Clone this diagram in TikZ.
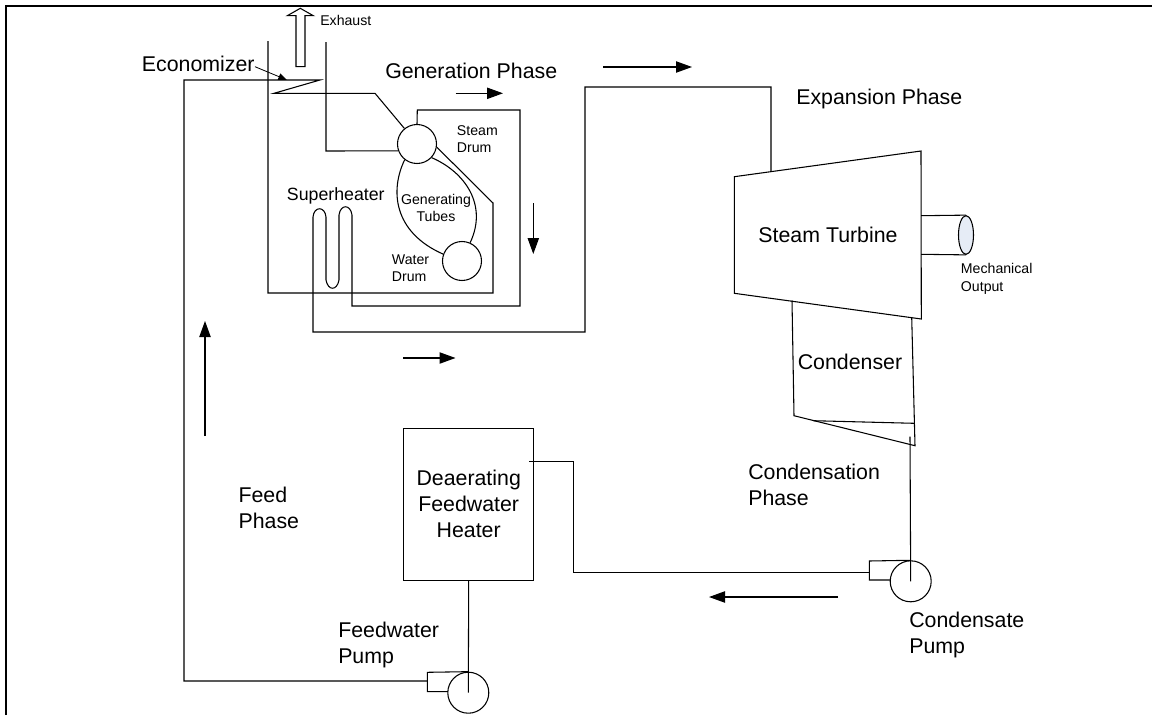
\documentclass[tikz,border=0pt]{standalone}
\usepackage{fontspec}
\setmainfont{Liberation Sans}
\usetikzlibrary{arrows.meta,shapes.geometric}
\definecolor{shaftblue}{HTML}{E6ECF6}
\tikzset{
  pipe/.style={draw=black,line width=0.8pt,line join=miter},
  frameline/.style={draw=black,line width=1.5pt},
  flow/.style={draw=black,line width=0.8pt,-{Triangle[length=12pt,width=8.5pt]}},
  callout/.style={draw=black,line width=0.6pt,-{Triangle[length=6.5pt,width=5pt]}},
  drum/.style={circle,draw=black,line width=0.8pt,minimum size=29.25pt,inner sep=0pt},
  pumpbody/.style={circle,draw=black,line width=0.8pt,minimum size=30.75pt,inner sep=0pt},
  big/.style={inner sep=0pt,font=\fontsize{16}{19.5}\selectfont},
  mid/.style={inner sep=0pt,font=\fontsize{13.3}{16}\selectfont},
  small/.style={inner sep=0pt,font=\fontsize{10.6}{13}\selectfont},
}
\begin{document}
\begin{tikzpicture}[x=0.75pt,y=-0.75pt]
\useasboundingbox (0,0) rectangle (1161,715);
% frame
\coordinate (fa) at (6,715); \coordinate (fb) at (6,6); \coordinate (fc) at (1152,6);
\draw[frameline] (fa) -- (fb) -- (fc);

% drums and pumps
\node[drum] (sd) at (417,144) {};
\node[drum] (wd) at (462,261) {};
\node[pumpbody] (cp) at (910.7,581.3) {};
\node[pumpbody] (fp) at (468.3,692.7) {};

% deaerator
\node[draw=black,line width=0.8pt,minimum width=97.5pt,minimum height=114pt,inner sep=0pt,align=center,font=\fontsize{16}{19.5}\selectfont] (dh) at (468.7,504.2) {Deaerating\\Feedwater\\Heater};

% feed line + economizer
\coordinate (ecotip) at (320,80);
\coordinate (ecoback) at (274,93.3);
\coordinate (ecobend) at (375,93.3);
\coordinate (fphouse) at (427.3,681);
\draw[pipe] (fphouse) -- (184,681) -- (184,80) -- (ecotip) -- (ecoback) -- (ecobend) -- (sd.129);

% gas path walls
\draw[pipe] (268,41) -- (268,293) -- (493,293) -- (493,203) -- (sd.-9);
\draw[pipe] (326,42) -- (326,151) -- (sd.200);

% generating tubes
\draw[pipe] (sd.232) .. controls (390,190) and (393,232) .. (wd.160);
\draw[pipe] (sd.-43) .. controls (465,172) and (488,205) .. (wd.66);

% turbine
\coordinate (t1) at (734.3,176.7); \coordinate (t2) at (921,151);
\coordinate (t3) at (921.3,319); \coordinate (t4) at (734.3,293.3);
\draw[pipe] (t1) -- (t2) -- (t3) -- (t4) -- cycle;
\coordinate (tin) at (771,171.6);

% steam line through superheater to turbine
\draw[pipe] (sd.north) -- (417.3,110) -- (520,110) -- (520,306) -- (352,306) -- (352,215)
  .. controls (350.5,204) and (340.5,204) .. (339,215) -- (339,280)
  .. controls (337,291) and (328,291) .. (326,280) -- (326,217)
  .. controls (325,206) and (314,206) .. (313,217) -- (313,332) -- (585,332) -- (585,87) -- (771,87) -- (tin);

% output shaft
\node[ellipse,draw=black,fill=shaftblue,line width=0.8pt,minimum width=11.25pt,minimum height=29pt,inner sep=0pt] (shaft) at (966,235) {};
\coordinate (s1) at (921,215.7); \coordinate (s2) at (921,254.3);
\draw[pipe] (s1) -- (shaft.north);
\draw[pipe] (s2) -- (shaft.south);

% condenser
\coordinate (c1) at (792,300.5); \coordinate (c2) at (794,415.7);
\coordinate (c3) at (915,445.7); \coordinate (c4) at (911.7,317);
\coordinate (c5) at (813.3,420.7); \coordinate (c6) at (914.3,423.3);
\draw[pipe] (c1) -- (c2) -- (c3) -- (c4);
\draw[pipe] (c5) -- (c6);

% condensate pump and line
\coordinate (cout) at (910,436.7);
\draw[pipe] (cout) -- (cp.center);
\draw[pipe] (cp.north) -- (869.3,561) -- (869.3,580) -- (890.3,580);
\draw[pipe] (869.3,572.7) -- (573.3,572.7) -- (573.3,461.3) -- (529.3,461.3);

% feedwater pump
\draw[pipe] (dh.south) -- (fp.center);
\draw[pipe] (fp.north) -- (427.3,672.3) -- (427.3,691.7) -- (447.8,691.7);

% exhaust hollow arrow
\draw[pipe] (296,66.7) -- (296,15.7) -- (287.3,15.7) -- (300.3,8.3) -- (313.3,15.7) -- (305,15.7) -- (305,66.7) -- cycle;

% flow arrows
\coordinate (a1a) at (455.7,93.3); \coordinate (a1b) at (503,93.3);
\coordinate (a2a) at (603,67); \coordinate (a2b) at (692,67);
\coordinate (a3a) at (533.3,203); \coordinate (a3b) at (533.3,254);
\coordinate (a4a) at (403.3,358); \coordinate (a4b) at (455.5,358);
\coordinate (a5a) at (205,436); \coordinate (a5b) at (205,321);
\coordinate (a6a) at (838,597); \coordinate (a6b) at (709,597);
\draw[flow] (a1a) -- (a1b);
\draw[flow] (a2a) -- (a2b);
\draw[flow] (a3a) -- (a3b);
\draw[flow] (a4a) -- (a4b);
\draw[flow] (a5a) -- (a5b);
\draw[flow] (a6a) -- (a6b);

% labels
\node[big,anchor=west] (leco) at (141.7,64) {Economizer};
\coordinate (ecoptr) at (287,80);
\draw[callout] (255,66.7) -- (ecoptr);
\node[small,anchor=west] (lexh) at (320,20) {Exhaust};
\node[big,anchor=west] (lgen) at (385,71) {Generation Phase};
\node[big,anchor=west] (lexp) at (796,99) {Expansion Phase};
\node[small,anchor=west,align=left] (lsd) at (456.7,139) {Steam\\Drum};
\node[mid,anchor=west] (lsh) at (286.7,196) {Superheater};
\node[small,align=center] (lgt) at (436,208) {Generating\\Tubes};
\node[small,anchor=west,align=left] (lwd) at (391.7,268) {Water\\Drum};
\node[big] (lst) at (828,235) {Steam Turbine};
\node[big] (lcd) at (850,362) {Condenser};
\node[small,anchor=west,align=left] (lmo) at (960.7,279) {Mechanical\\Output};
\node[big,anchor=west,align=left] (lcp) at (748,485) {Condensation\\Phase};
\node[big,anchor=west,align=left] (lfp) at (238.3,508) {Feed\\Phase};
\node[big,anchor=west,align=left] (lfw) at (338,645) {Feedwater\\Pump};
\node[big,anchor=west,align=left] (lcn) at (909,635) {Condensate\\Pump};
\end{tikzpicture}
\end{document}
